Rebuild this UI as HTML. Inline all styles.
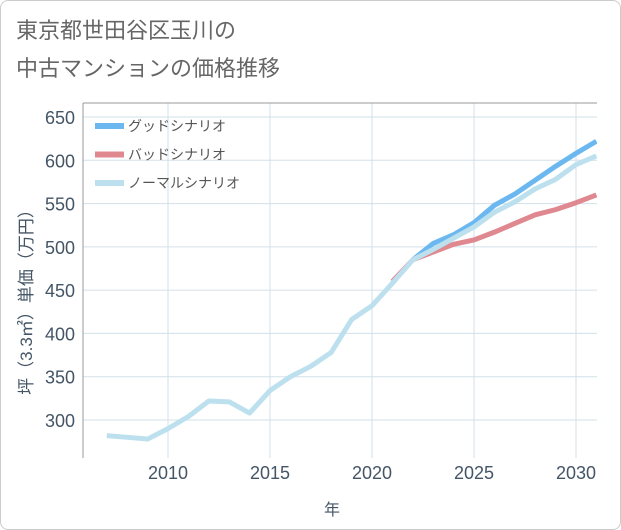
<!DOCTYPE html>
<html><head><meta charset="utf-8"><style>
body{margin:0;background:#fff;font-family:"Liberation Sans","Noto Sans CJK JP",sans-serif}
#card{position:absolute;left:0;top:0;width:619px;height:528px;border:1px solid #ccc;border-radius:8px;background:#fff}
</style></head><body>
<div id="card">
<svg id="chart" width="621" height="530" style="position:absolute;left:-1px;top:-1px">
<text x="16" y="38" font-size="22" fill="#666">東京都世田谷区玉川の</text>
<text x="16" y="76" font-size="22" fill="#666">中古マンションの価格推移</text>
<g id="grid"></g><g id="axes"></g><g id="series"></g>
<text x="332" y="515" font-size="16" fill="#456" text-anchor="middle">年</text>
<text transform="translate(32,298) rotate(-90)" font-size="17" fill="#456" text-anchor="middle">坪（3.3㎡）単価（万円）</text>
<g id="legend"></g>
</svg></div>
<script>
const years=[2007,2008,2009,2010,2011,2012,2013,2014,2015,2016,2017,2018,2019,2020,2021,2022,2023,2024,2025,2026,2027,2028,2029,2030,2031];
const normal=[282,280,278,290,304,322,321,308,334,350,362,378,416,432,458,485,497,510,523,540,552,567,578,595,605];
const goodYears=[2022,2023,2024,2025,2026,2027,2028,2029,2030,2031];
const good=[485,504,514,528,548,561,577,593,608,622];
const badYears=[2021,2022,2023,2024,2025,2026,2027,2028,2029,2030,2031];
const bad=[460,485,494,503,508,517,527,537,543,551,560];
const yTicks=[300,350,400,450,500,550,600,650];
const xTicks=[2010,2015,2020,2025,2030];
const L=83,R=597,T=103,B=458;
const X=v=>168+(v-2010)*20.4;
const Y=v=>420-(v-300)*303/350;
const NS="http://www.w3.org/2000/svg";
function mk(p,t,a){const e=document.createElementNS(NS,t);for(const k in a)e.setAttribute(k,a[k]);p.appendChild(e);return e;}
const g=document.getElementById('grid'),ax=document.getElementById('axes'),s=document.getElementById('series'),lg=document.getElementById('legend');
yTicks.forEach(v=>{const l=mk(g,'line',{x1:L,x2:R,y1:Y(v),y2:Y(v),stroke:'#d3e0ea','stroke-width':1});

const t=mk(ax,'text',{x:L-8,y:Y(v)+7,'font-size':18,fill:'#456','text-anchor':'end'});t.textContent=v;
});
xTicks.forEach(v=>{const l=mk(g,'line',{x1:X(v),x2:X(v),y1:T,y2:B,stroke:'#d3e0ea','stroke-width':1});

const t=mk(ax,'text',{x:X(v),y:B+21,'font-size':18,fill:'#456','text-anchor':'middle'});t.textContent=v;
});
const fr=mk(ax,'path',{d:`M${L},${T}V${B}M${L},${T}H${R}`,stroke:'#999',fill:'none'});

const clip=mk(s,'clipPath',{id:'pc'});mk(clip,'rect',{x:L,y:T,width:R-L,height:B-T});
function line(xs,ys,c,n){const p=mk(s,'polyline',{points:xs.map((x,i)=>X(x)+','+Y(ys[i])).join(' '),fill:'none',stroke:c,'stroke-width':5,'stroke-linejoin':'round','clip-path':'url(#pc)'});
}
line(badYears,bad,'#e08890','bad-scenario-line');
line(goodYears,good,'#6bb8f0','good-scenario-line');
line(years,normal,'#bde0ee','normal-scenario-line');
[['グッドシナリオ','#6bb8f0','legend-good'],['バッドシナリオ','#e08890','legend-bad'],['ノーマルシナリオ','#bde0ee','legend-normal']].forEach((d,i)=>{
const y=126+i*28.5;const r=mk(lg,'rect',{x:95,y:y-3,width:29,height:6,fill:d[1]});

const t=mk(lg,'text',{x:128,y:y+5,'font-size':14,fill:'#555'});t.textContent=d[0];
});
</script></body></html>
